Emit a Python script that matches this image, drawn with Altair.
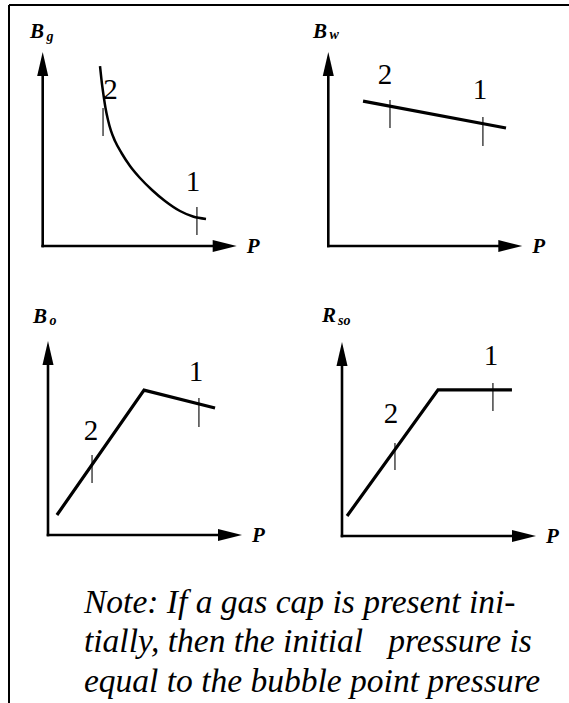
import altair as alt
import pandas as pd

FONT = "Liberation Serif"
W, H = 569, 703
K = 1.94          # pixels per axis unit; every axis runs from 0 to 100 units
AXIS_LEN = 100    # axis length in units (arrow tip)
HEAD = 24         # arrowhead length in px

# ---------------- data ----------------
panel_names = ["Bg", "Bw", "Bo", "Rso"]
symbol_main = ["B", "B", "B", "R"]
symbol_sub = ["g", "w", "o", "so"]

# property curves versus pressure (axis units 0..100)
bg_p = [29.54, 30.31, 31.34, 32.37, 33.66, 35.21, 37.27, 40.62, 45.00, 50.15,
        56.34, 63.04, 70.77, 77.47, 84.18]
bg_v = [92.78, 85.57, 77.84, 71.13, 64.95, 59.28, 54.12, 47.94, 41.24, 35.05,
        28.87, 23.20, 18.04, 15.21, 13.92]
bw_p = [17.9, 91.6]
bw_v = [74.7, 60.8]
bo_p = [4.6, 49.5, 86.1]
bo_v = [10.3, 74.7, 65.5]
rso_p = [2.6, 49.5, 87.6]
rso_v = [10.3, 75.3, 75.3]

# pressure states "1" (initial) and "2" (later) marked on each curve
mark_panel = ["Bg", "Bg", "Bw", "Bw", "Bo", "Bo", "Rso", "Rso"]
mark_label = ["2", "1", "2", "1", "2", "1", "2", "1"]
mark_p = [31.1, 79.5, 31.8, 79.7, 22.7, 77.8, 27.3, 77.8]
mark_v_top = [71.1, 20.1, 75.3, 66.5, 41.2, 70.6, 47.9, 78.9]
mark_v_bot = [56.7, 5.7, 60.8, 51.5, 26.8, 55.7, 34.0, 64.4]
label_p = [34.9, 77.5, 29.2, 78.2, 22.2, 76.3, 25.3, 76.8]
label_v = [75.8, 28.4, 83.5, 75.8, 49.0, 79.4, 58.2, 88.1]

note_lines = [
    "Note: If a gas cap is present ini-",
    "tially, then the initial \u00a0\u00a0pressure is",
    "equal to the bubble point pressure",
]

# ---------------- layout ----------------
origin = {"Bg": (42.7, 246), "Bw": (328.3, 246), "Bo": (48, 535), "Rso": (342, 536)}
# offsets (px) of the property symbol and its subscript from the panel origin
sym_off = {"Bg": (-12.7, -207.7), "Bw": (-15.3, -207.7), "Bo": (-15, -212.3), "Rso": (-20, -214)}
sub_off = {"Bg": (3.8, -205.5), "Bw": (1.2, -207), "Bo": (1.5, -210), "Rso": (-4.0, -211)}
P_OFF = (204, 7)
NOTE_X, NOTE_Y0, NOTE_DY = 84, 612.7, 39.5


def to_xy(panel, p, v):
    ox, oy = origin[panel]
    return ox + p * K, oy - v * K


def curve_frame(names, src):
    rows = []
    for name in names:
        ps, vs = src[name]
        for i, (p, v) in enumerate(zip(ps, vs)):
            x, y = to_xy(name, p, v)
            rows.append({"panel": name, "i": i, "x": x, "y": y})
    return pd.DataFrame(rows)


curve_src = {"Bg": (bg_p, bg_v), "Bw": (bw_p, bw_v), "Bo": (bo_p, bo_v), "Rso": (rso_p, rso_v)}
smooth_curves = curve_frame(["Bg"], curve_src)
straight_curves = curve_frame(["Bw", "Bo", "Rso"], curve_src)

ticks = pd.DataFrame([
    {"panel": n,
     "x": to_xy(n, p, t)[0], "y": to_xy(n, p, t)[1], "y2": to_xy(n, p, b)[1]}
    for n, p, t, b in zip(mark_panel, mark_p, mark_v_top, mark_v_bot)
])
digits = pd.DataFrame([
    {"text": s, "x": to_xy(n, p, v)[0], "y": to_xy(n, p, v)[1]}
    for n, s, p, v in zip(mark_panel, mark_label, label_p, label_v)
])

axis_rows, vhead, hhead, sym_rows, sub_rows, p_rows = [], [], [], [], [], []
for n, m, s in zip(panel_names, symbol_main, symbol_sub):
    ox, oy = origin[n]
    tip = AXIS_LEN * K
    axis_rows.append({"x": ox, "y": oy, "x2": ox, "y2": oy - tip + HEAD * 0.8})
    axis_rows.append({"x": ox, "y": oy, "x2": ox + tip - HEAD * 0.8, "y2": oy})
    vhead.append({"x": ox, "y": oy - tip + HEAD / 2})
    hhead.append({"x": ox + tip - HEAD / 2, "y": oy})
    sym_rows.append({"text": m, "x": ox + sym_off[n][0], "y": oy + sym_off[n][1]})
    sub_rows.append({"text": s, "x": ox + sub_off[n][0], "y": oy + sub_off[n][1]})
    p_rows.append({"text": "P", "x": ox + P_OFF[0], "y": oy + P_OFF[1]})

axes_df = pd.DataFrame(axis_rows)
vhead_df = pd.DataFrame(vhead)
hhead_df = pd.DataFrame(hhead)
sym_df = pd.DataFrame(sym_rows)
sub_df = pd.DataFrame(sub_rows)
p_df = pd.DataFrame(p_rows)
note_df = pd.DataFrame([
    {"text": t, "x": NOTE_X, "y": NOTE_Y0 + i * NOTE_DY} for i, t in enumerate(note_lines)
])
frame_df = pd.DataFrame([
    {"x": 9, "y": 5, "x2": W, "y2": 5},
    {"x": 9, "y": 5, "x2": 9, "y2": H},
])

# ---------------- encodings ----------------
xs = alt.Scale(domain=[0, W], nice=False, zero=False)
ys = alt.Scale(domain=[0, H], nice=False, zero=False, reverse=True)
X = alt.X("x:Q", scale=xs, axis=None)
Y = alt.Y("y:Q", scale=ys, axis=None)

frame = alt.Chart(frame_df).mark_rule(color="black", strokeWidth=2).encode(
    x=X, y=Y, x2="x2:Q", y2="y2:Q")

axes = alt.Chart(axes_df).mark_rule(color="black", strokeWidth=2.6, strokeCap="square").encode(
    x=X, y=Y, x2="x2:Q", y2="y2:Q")

up_arrow = alt.Chart(vhead_df).mark_point(
    shape="M0,-1L0.46,1L-0.46,1Z", size=HEAD * HEAD, filled=True,
    color="black", opacity=1, strokeWidth=0).encode(x=X, y=Y)
right_arrow = alt.Chart(hhead_df).mark_point(
    shape="M1,0L-1,-0.5L-1,0.5Z", size=HEAD * HEAD, filled=True,
    color="black", opacity=1, strokeWidth=0).encode(x=X, y=Y)

smooth_line = alt.Chart(smooth_curves).mark_line(
    color="black", strokeWidth=2.5, interpolate="monotone").encode(
    x=X, y=Y, detail="panel:N", order="i:Q")
straight_lines = alt.Chart(straight_curves).mark_line(
    color="black", strokeWidth=3.2, interpolate="linear", strokeJoin="miter").encode(
    x=X, y=Y, detail="panel:N", order="i:Q")

tick_marks = alt.Chart(ticks).mark_rule(color="black", strokeWidth=1.1).encode(
    x=X, y=Y, y2="y2:Q")

digit_text = alt.Chart(digits).mark_text(
    font=FONT, fontSize=29, align="center", baseline="alphabetic", color="black").encode(
    x=X, y=Y, text="text:N")

sym_text = alt.Chart(sym_df).mark_text(
    font=FONT, fontSize=21, fontWeight="bold", fontStyle="italic",
    align="left", baseline="alphabetic", color="black").encode(x=X, y=Y, text="text:N")
sub_text = alt.Chart(sub_df).mark_text(
    font=FONT, fontSize=14, fontWeight="bold", fontStyle="italic",
    align="left", baseline="alphabetic", color="black").encode(x=X, y=Y, text="text:N")
p_text = alt.Chart(p_df).mark_text(
    font=FONT, fontSize=21, fontWeight="bold", fontStyle="italic",
    align="left", baseline="alphabetic", color="black").encode(x=X, y=Y, text="text:N")

note_text = alt.Chart(note_df).mark_text(
    font=FONT, fontSize=33.5, fontStyle="italic",
    align="left", baseline="alphabetic", color="black").encode(x=X, y=Y, text="text:N")

chart = alt.layer(
    frame, axes, up_arrow, right_arrow, smooth_line, straight_lines, tick_marks,
    digit_text, sym_text, sub_text, p_text, note_text,
).properties(
    width=W, height=H, padding=0, background="white",
    autosize=alt.AutoSizeParams(type="none"),
).configure_view(stroke=None)

chart.save("out.html", embed_options={"renderer": "svg", "actions": False})
